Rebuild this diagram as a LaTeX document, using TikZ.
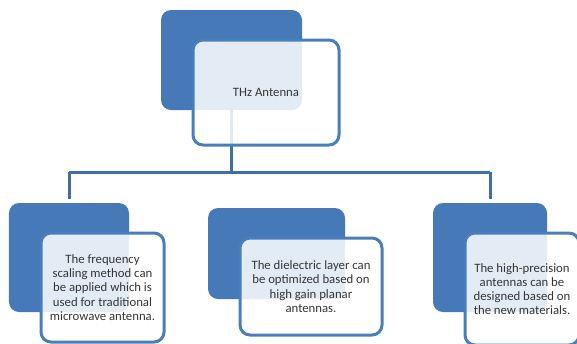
\documentclass[tikz,border=0pt]{standalone}
\usepackage{fontspec}
\setmainfont{Carlito}
\usetikzlibrary{positioning, backgrounds}

\definecolor{boxblue}{HTML}{4579B8}
\definecolor{rimblue}{HTML}{4A7EBB}
\definecolor{linkblue}{HTML}{3E6FA8}
\definecolor{textgray}{HTML}{353535}

\tikzset{
  darkbox/.style={rectangle, rounded corners=10bp, fill=boxblue, inner sep=0pt, outer sep=0pt},
  lightbox/.style={rectangle, rounded corners=10bp, draw=rimblue, line width=3bp,
    fill=white, fill opacity=0.85, text opacity=1, text=textgray, align=center,
    inner sep=0pt, outer sep=0pt, font=\fontsize{12.8}{14.3}\selectfont},
  link/.style={draw=linkblue, line width=3bp}
}

\begin{document}
\begin{tikzpicture}[x=1bp, y=-1bp, node distance=30bp and 32bp]
  \useasboundingbox (0,0) rectangle (577,343);
  \clip (0,0) rectangle (577,343);

  % root
  \node[darkbox, minimum width=141bp, minimum height=100bp] (rootbg) at (231.5,60) {};
  \node[lightbox, minimum width=146bp, minimum height=105bp, below right=of rootbg.north west, anchor=north west] (root) {THz Antenna};

  % three leaves
  \node[darkbox, minimum width=120bp, minimum height=109bp] (freqbg) at (69,257.5) {};
  \node[lightbox, minimum width=123bp, minimum height=109bp, below right=of freqbg.north west, anchor=north west] (freq)
    {The frequency\\scaling method can\\be applied which is\\used for traditional\\microwave antenna.};

  \node[darkbox, minimum width=137bp, minimum height=91bp] (dielbg) at (276.5,253.5) {};
  \node[lightbox, minimum width=142bp, minimum height=97bp, below right=of dielbg.north west, anchor=north west] (diel)
    {The dielectric layer can\\be optimized based on\\high gain planar\\antennas.};

  \node[darkbox, minimum width=114bp, minimum height=109bp] (precbg) at (490,257.5) {};
  \node[lightbox, minimum width=114bp, minimum height=112bp, below right=of precbg.north west, anchor=north west] (prec)
    {The high-precision\\antennas can be\\designed based on\\the new materials.};

  % tree lines, kept under the boxes
  \coordinate (hub) at (232,172);
  \begin{pgfonlayer}{background}
    \path[link] (rootbg.south) -- (rootbg.south |- hub);
    \path[link] (freqbg.north |- hub) -- (precbg.north |- hub);
    \path[link, shorten >=4bp] (freqbg.north |- hub) -- (freqbg.north);
    \path[link, shorten >=4bp] (precbg.north |- hub) -- (precbg.north);
  \end{pgfonlayer}
\end{tikzpicture}
\end{document}
